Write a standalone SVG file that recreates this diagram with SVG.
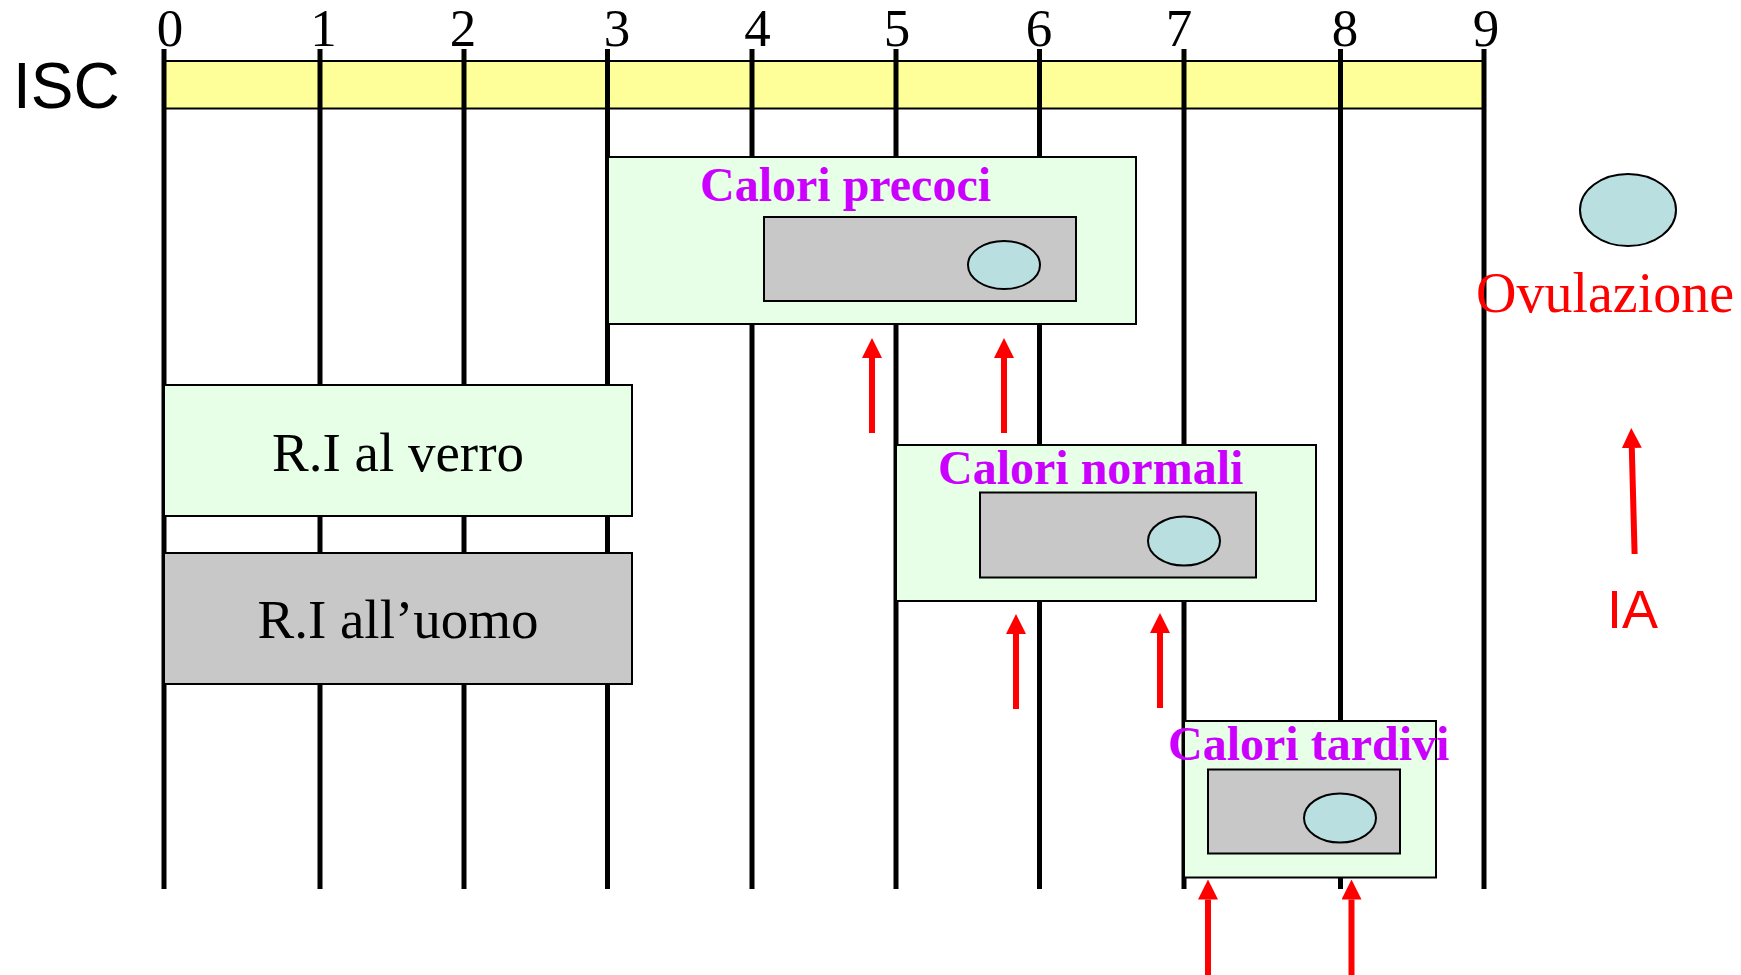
<svg xmlns="http://www.w3.org/2000/svg" width="1741" height="975" viewBox="0 0 1741 975">
<style>
.grid{stroke:#000;stroke-width:5}
.num{font-family:"Liberation Serif",serif;font-size:53px;fill:#000;text-anchor:middle}
.green{fill:#E6FFE6;stroke:#000;stroke-width:2}
.gray{fill:#C8C8C8;stroke:#000;stroke-width:2}
.egg{fill:#BADFE1;stroke:#000;stroke-width:2}
.title{font-family:"Liberation Serif",serif;font-weight:bold;font-size:48px;fill:#CC00FF}
.ri{font-family:"Liberation Serif",serif;font-size:55px;fill:#000;text-anchor:middle}
.arr{stroke:#FF0000;stroke-width:6;fill:none;marker-end:url(#ah)}
</style>
<defs>
<marker id="ah" markerUnits="userSpaceOnUse" markerWidth="20" markerHeight="20" refX="0" refY="10" orient="auto" viewBox="0 0 20 20">
<path d="M0,0 L20,10 L0,20 z" fill="#FF0000"/>
</marker>
</defs>
<rect width="1741" height="975" fill="#fff"/>
<g id="isc-bar">
<rect x="164" y="61" width="1319" height="47.5" fill="#FFFF99" stroke="#000" stroke-width="2"/>
<text x="13" y="108" font-family="Liberation Sans, sans-serif" font-size="64" fill="#000">ISC</text>
</g>
<g id="grid">
<line class="grid" x1="164" y1="49" x2="164" y2="889"/>
<line class="grid" x1="320" y1="49" x2="320" y2="889"/>
<line class="grid" x1="464" y1="49" x2="464" y2="889"/>
<line class="grid" x1="607.5" y1="49" x2="607.5" y2="889"/>
<line class="grid" x1="752" y1="49" x2="752" y2="889"/>
<line class="grid" x1="896" y1="49" x2="896" y2="889"/>
<line class="grid" x1="1039.5" y1="49" x2="1039.5" y2="889"/>
<line class="grid" x1="1184" y1="49" x2="1184" y2="889"/>
<line class="grid" x1="1340.5" y1="49" x2="1340.5" y2="889"/>
<line class="grid" x1="1484" y1="49" x2="1484" y2="889"/>
</g>
<g id="scale">
<text class="num" x="170" y="46">0</text>
<text class="num" x="323.5" y="46">1</text>
<text class="num" x="463" y="46">2</text>
<text class="num" x="617" y="46">3</text>
<text class="num" x="757.5" y="46">4</text>
<text class="num" x="897" y="46">5</text>
<text class="num" x="1039" y="46">6</text>
<text class="num" x="1179" y="46">7</text>
<text class="num" x="1345" y="46">8</text>
<text class="num" x="1486" y="46">9</text>
</g>
<g id="calori-precoci">
<rect class="green" x="608" y="157" width="528" height="167"/>
<text class="title" x="700" y="201">Calori precoci</text>
<rect class="gray" x="764" y="217" width="312" height="84"/>
<ellipse class="egg" cx="1004" cy="265" rx="36" ry="24"/>
</g>
<g id="ri-verro">
<rect class="green" x="164" y="385" width="468" height="131"/>
<text class="ri" x="398" y="471">R.I al verro</text>
</g>
<g id="ri-uomo">
<rect class="gray" x="164" y="553" width="468" height="131"/>
<text class="ri" x="398" y="638">R.I all’uomo</text>
</g>
<g id="calori-normali">
<rect class="green" x="896" y="445" width="420" height="156"/>
<text class="title" x="938" y="484">Calori normali</text>
<rect class="gray" x="980" y="492.5" width="276" height="85"/>
<ellipse class="egg" cx="1184" cy="541" rx="36" ry="24.5"/>
</g>
<g id="calori-tardivi">
<rect class="green" x="1184" y="721" width="252" height="156.5"/>
<text class="title" x="1168" y="759.5">Calori tardivi</text>
<rect class="gray" x="1208" y="769.5" width="192" height="84"/>
<ellipse class="egg" cx="1340" cy="818" rx="36" ry="24.5"/>
</g>
<g id="ovulazione">
<ellipse class="egg" cx="1628" cy="210" rx="48" ry="36"/>
<text x="1476" y="312" font-family="Liberation Serif, serif" font-size="56" fill="#FF0000">Ovulazione</text>
</g>
<g id="ia">
<text x="1607" y="628" font-family="Liberation Sans, sans-serif" font-size="54" fill="#FF0000">IA</text>
</g>
<g id="connectors">
<line class="arr" x1="872" y1="433" x2="872" y2="358"/>
<line class="arr" x1="1004" y1="433" x2="1004" y2="358"/>
<line class="arr" x1="1016" y1="709" x2="1016" y2="634"/>
<line class="arr" x1="1160" y1="708" x2="1160" y2="633"/>
<line class="arr" x1="1208" y1="975" x2="1208" y2="899.5"/>
<line class="arr" x1="1351.5" y1="975" x2="1351.5" y2="899.5"/>
<line class="arr" x1="1634.6" y1="554" x2="1631.8" y2="448"/>
</g>
</svg>
